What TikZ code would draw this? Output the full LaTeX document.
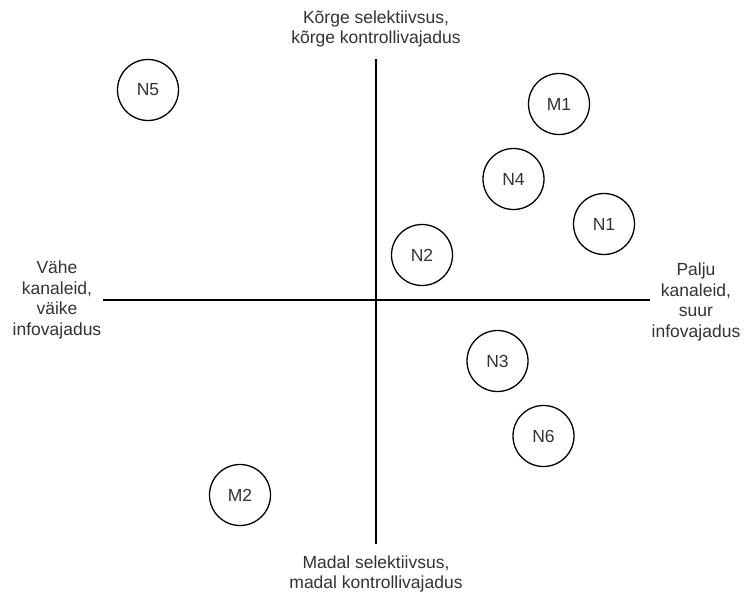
\documentclass[tikz,border=0pt]{standalone}
\usepackage{fontspec}
\setmainfont{Liberation Sans}
\begin{document}
\begin{tikzpicture}[x=1pt,y=-1pt,
  axis/.style={line width=1.3pt,black},
  pt/.style={circle,draw,line width=1.3pt,minimum size=61pt,inner sep=0pt,font=\fontsize{17.5}{20}\selectfont,text=black!80},
  lbl/.style={align=center,font=\fontsize{17.5}{20.5}\selectfont,text=black!80,inner sep=0pt}]
\useasboundingbox[fill=white] (0,0) rectangle (752,597);
\coordinate (top) at (376,59);
\coordinate (bot) at (376,544);
\coordinate (lft) at (103,300);
\coordinate (rgt) at (650,300);
\draw[axis] (top) -- (bot);
\draw[axis] (lft) -- (rgt);
\node[lbl] (tl) at (376,29) {Kõrge selektiivsus,\\kõrge kontrollivajadus};
\node[lbl] (bl) at (376,574) {Madal selektiivsus,\\madal kontrollivajadus};
\node[lbl] (ll) at (57,300) {Vähe\\kanaleid,\\väike\\infovajadus};
\node[lbl] (rl) at (696,302) {Palju\\kanaleid,\\suur\\infovajadus};
\node[pt] (N5) at (148,90) {N5};
\node[pt] (M1) at (559,104) {M1};
\node[pt] (N4) at (513.5,179) {N4};
\node[pt] (N1) at (604,224) {N1};
\node[pt] (N2) at (422,255) {N2};
\node[pt] (N3) at (497.5,361) {N3};
\node[pt] (N6) at (543.5,436) {N6};
\node[pt] (M2) at (240,495) {M2};
\end{tikzpicture}
\end{document}
